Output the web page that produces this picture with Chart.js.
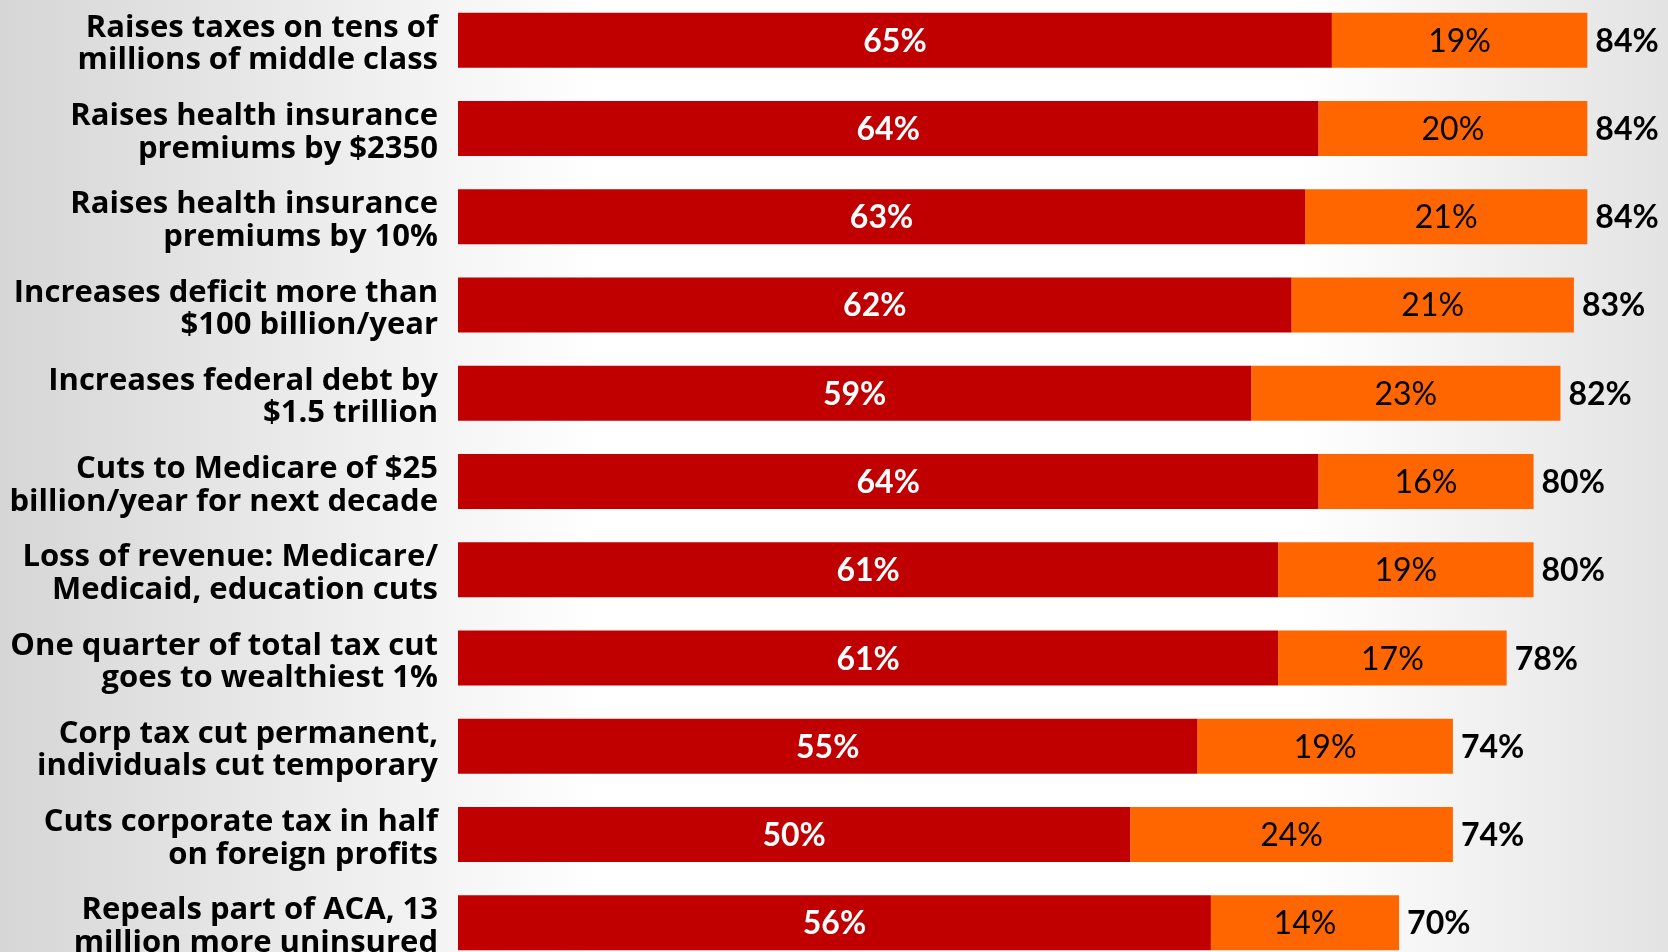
<!DOCTYPE html>
<html>
<head>
<meta charset="utf-8">
<script src="https://cdn.jsdelivr.net/npm/chart.js@4.4.1/dist/chart.umd.min.js"></script>
<style>
  html, body { margin: 0; padding: 0; width: 1668px; height: 952px; overflow: hidden; }
  body { background: linear-gradient(to right, #d6d6d6 0%, #ffffff 36%, #ffffff 78%, #e3e3e3 100%); }
  #wrap { position: absolute; left: 0; top: -4px; width: 1668px; height: 971px; }
</style>
</head>
<body>
<div id="wrap"><canvas id="chart"></canvas></div>
<script>
const categories = [
    ['Raises taxes on tens of', 'millions of middle class'],
    ['Raises health insurance', 'premiums by $2350'],
    ['Raises health insurance', 'premiums by 10%'],
    ['Increases deficit more than', '$100 billion/year'],
    ['Increases federal debt by', '$1.5 trillion'],
    ['Cuts to Medicare of $25', 'billion/year for next decade'],
    ['Loss of revenue: Medicare/', 'Medicaid, education cuts'],
    ['One quarter of total tax cut', 'goes to wealthiest 1%'],
    ['Corp tax cut permanent,', 'individuals cut temporary'],
    ['Cuts corporate tax in half', 'on foreign profits'],
    ['Repeals part of ACA, 13', 'million more uninsured']
];
const strongValues = [65, 64, 63, 62, 59, 64, 61, 61, 55, 50, 56];
const otherValues = [19, 20, 21, 21, 23, 16, 19, 17, 19, 24, 14];
const totalValues = [84, 84, 84, 83, 82, 80, 80, 78, 74, 74, 70];

const RED = '#C00000';
const ORANGE = '#FF6600';
const FONT = 'Lato';

// draws the % inside each segment and the total after the bar
const barLabels = {
    id: 'barLabels',
    afterDatasetsDraw(chart) {
        const ctx = chart.ctx;
        ctx.save();
        ctx.textBaseline = 'alphabetic';
        const dy = 11.5;
        chart.data.datasets.forEach((ds, di) => {
            const meta = chart.getDatasetMeta(di);
            meta.data.forEach((bar, i) => {
                ctx.textAlign = 'center';
                ctx.font = (di === 0 ? 'bold ' : '') + '32px ' + FONT;
                ctx.fillStyle = di === 0 ? '#ffffff' : '#000000';
                ctx.fillText(ds.data[i] + '%', (bar.x + bar.base) / 2, bar.y + dy);
                if (di === chart.data.datasets.length - 1) {
                    ctx.textAlign = 'left';
                    ctx.font = 'bold 32px ' + FONT;
                    ctx.fillStyle = '#000000';
                    ctx.fillText(totalValues[i] + '%', bar.x + 8, bar.y + dy);
                }
            });
        });
        ctx.restore();
    }
};

new Chart(document.getElementById('chart'), {
    type: 'bar',
    data: {
        labels: categories,
        datasets: [
            { data: strongValues, backgroundColor: RED, barPercentage: 0.623, categoryPercentage: 1 },
            { data: otherValues, backgroundColor: ORANGE, barPercentage: 0.623, categoryPercentage: 1 }
        ]
    },
    options: {
        indexAxis: 'y',
        responsive: true,
        maintainAspectRatio: false,
        animation: false,
        layout: { padding: 0 },
        plugins: { legend: { display: false }, tooltip: { enabled: false } },
        scales: {
            x: { stacked: true, min: 0, max: 90, display: false },
            y: {
                stacked: true,
                grid: { display: false, drawTicks: false },
                border: { display: false },
                ticks: {
                    color: '#000000',
                    padding: 20,
                    labelOffset: 4,
                    font: { family: 'Open Sans', weight: 'bold', size: 31, lineHeight: 1.05 }
                },
                afterFit(scale) {
                    scale.width = 458;
                    scale.paddingTop = 0;
                    scale.paddingBottom = 0;
                }
            }
        }
    },
    plugins: [barLabels]
});
</script>
</body>
</html>
